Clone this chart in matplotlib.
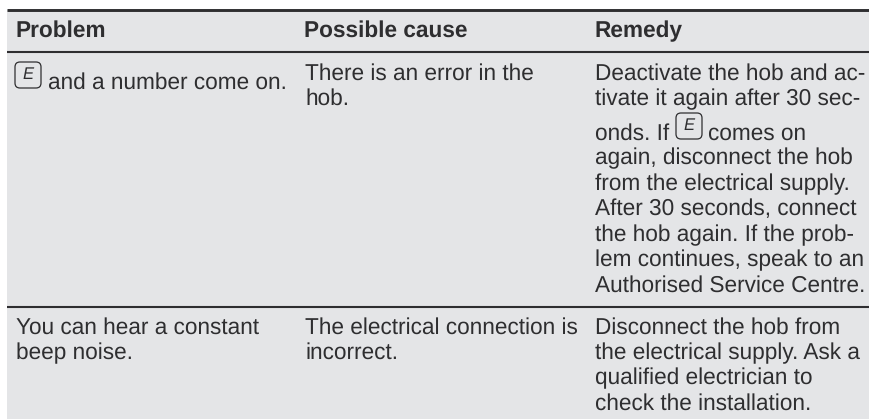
import matplotlib
matplotlib.use('Agg')
import matplotlib.pyplot as plt
from matplotlib.patches import Rectangle, FancyBboxPatch

plt.rcParams['font.family'] = ['Liberation Sans', 'DejaVu Sans']
plt.rcParams['text.hinting'] = 'none'

# table text, column by column
headers = ['Problem', 'Possible cause', 'Remedy']
col_x = [16, 305.5, 595.5]
row1_problem = ['and a number come on.']
row1_cause = ['There is an error in the', 'hob.']
row1_remedy = ['Deactivate the hob and ac-', 'tivate it again after 30 sec-', 'onds. If', 'again, disconnect the hob',
               'from the electrical supply.', 'After 30 seconds, connect', 'the hob again. If the prob-',
               'lem continues, speak to an', 'Authorised Service Centre.']
row1_remedy_y = [79.5, 105, 140, 164.5, 190, 215.5, 241, 266, 292]
row2_problem = ['You can hear a constant', 'beep noise.']
row2_cause = ['The electrical connection is', 'incorrect.']
row2_remedy = ['Disconnect the hob from', 'the electrical supply. Ask a', 'qualified electrician to', 'check the installation.']
row2_y = [334, 359, 384.5, 410]

text_col = '#2e2e30'
fs = 16.3

fig = plt.figure(figsize=(8.7, 4.19), dpi=100)
ax = fig.add_axes([0, 0, 1, 1])
ax.set_xlim(0, 870)
ax.set_ylim(419, 0)
ax.axis('off')

ax.add_patch(Rectangle((7, 10), 863, 409, fc='#e4e5e7', ec='none'))
for y, lw in [(10.3, 2.1), (52.3, 1.5), (306.5, 1.5)]:
    ax.plot([7, 870], [y, y], color='#2e2e30', lw=lw, solid_capstyle='butt')

for x, h in zip(col_x, headers):
    ax.text(x - 1, 37, h, fontsize=fs, fontweight='bold', color=text_col, va='baseline')


def put(x, lines, ys):
    for s, y in zip(lines, ys):
        ax.text(x, y, s, fontsize=fs, color=text_col, va='baseline')


def e_icon(x, y):
    # little display symbol, x and y are the top left corner
    ax.add_patch(FancyBboxPatch((x, y), 26, 26, boxstyle='round,pad=0,rounding_size=5',
                                fc='none', ec=text_col, lw=0.9))
    ax.text(x + 13, y + 13, 'E', fontsize=12, style='italic', color=text_col, ha='center', va='center')


e_icon(15, 62)
put(48, row1_problem, [89])
put(col_x[1], row1_cause, [79.5, 105])
put(col_x[2], row1_remedy, row1_remedy_y)
e_icon(676, 113)
put(708, ['comes on'], [140])
put(col_x[0], row2_problem, row2_y)
put(col_x[1], row2_cause, row2_y)
put(col_x[2], row2_remedy, row2_y)

plt.savefig('out.png', dpi=100)
